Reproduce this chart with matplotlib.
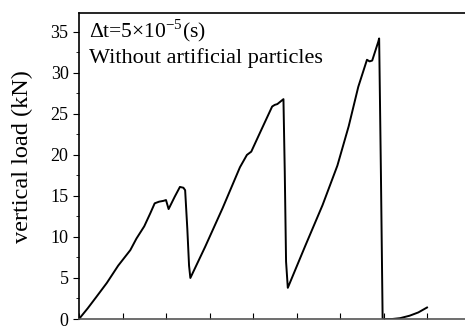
import matplotlib.pyplot as plt
from matplotlib.ticker import MultipleLocator

# load curve (x in arbitrary displacement units, y in kN)
disp = [0.00, 0.10, 0.20, 0.32, 0.45, 0.59, 0.66, 0.75, 0.82, 0.87, 0.92, 0.97,
        1.00, 1.03, 1.10, 1.16, 1.20, 1.22, 1.245, 1.265, 1.28,
        1.45, 1.65, 1.85, 1.93, 1.98, 2.08, 2.22, 2.25, 2.28, 2.35, 2.365, 2.38, 2.40,
        2.60, 2.80, 2.97, 3.10, 3.21, 3.31, 3.34, 3.37, 3.44, 3.45, 3.47, 3.49,
        3.60, 3.69, 3.80, 3.90, 4.00]
load = [0.0, 1.3, 2.7, 4.4, 6.5, 8.4, 9.8, 11.3, 12.9, 14.1, 14.3, 14.4,
        14.5, 13.4, 14.9, 16.1, 16.0, 15.7, 11.0, 6.5, 5.0,
        8.8, 13.5, 18.5, 20.0, 20.4, 22.7, 25.9, 26.1, 26.2, 26.8, 18.0, 7.0, 3.8,
        8.9, 13.9, 18.7, 23.5, 28.3, 31.6, 31.4, 31.5, 33.8, 34.2, 18.0, 0.0,
        0.0, 0.1, 0.4, 0.8, 1.4]

plt.rcParams['font.family'] = ['Liberation Serif', 'DejaVu Serif']
plt.rcParams['mathtext.fontset'] = 'custom'
plt.rcParams['mathtext.rm'] = 'Liberation Serif'

fig = plt.figure(figsize=(4.65, 3.26), dpi=100)
ax = fig.add_axes([79 / 465, 7 / 326, 400 / 465, 306 / 326])

ax.plot(disp, load, color='black', linewidth=1.4)

ax.set_xlim(0, 400 / 87)
ax.set_ylim(0, 37.3)

ax.spines['right'].set_visible(False)
for s in ['left', 'top', 'bottom']:
    ax.spines[s].set_linewidth(1.2)
ax.spines['bottom'].set_color('#555555')

ax.yaxis.set_major_locator(MultipleLocator(5))
ax.yaxis.set_minor_locator(MultipleLocator(2.5))
ax.tick_params(axis='y', which='major', direction='out', length=4, labelsize=13)
ax.tick_params(axis='y', which='minor', direction='out', length=2.5)

ax.xaxis.set_major_locator(MultipleLocator(0.5))
ax.xaxis.set_minor_locator(MultipleLocator(1.0))
ax.tick_params(axis='x', which='major', direction='in', length=4, bottom=True,
               top=False, labelbottom=False)
ax.tick_params(axis='x', which='minor', direction='in', length=5, bottom=False,
               top=True, labelbottom=False)

ax.set_ylabel('vertical load (kN)', fontsize=17.5)
ax.yaxis.set_label_coords(-0.115, 0.53)

ax.text(0.025, 0.922, r'Δt=5×10$^{\mathregular{-5}}$(s)', transform=ax.transAxes,
        fontsize=15.5, va='baseline', ha='left')
ax.text(0.025, 0.837, 'Without artificial particles', transform=ax.transAxes,
        fontsize=16, va='baseline', ha='left')

fig.savefig('out.png', dpi=100)
